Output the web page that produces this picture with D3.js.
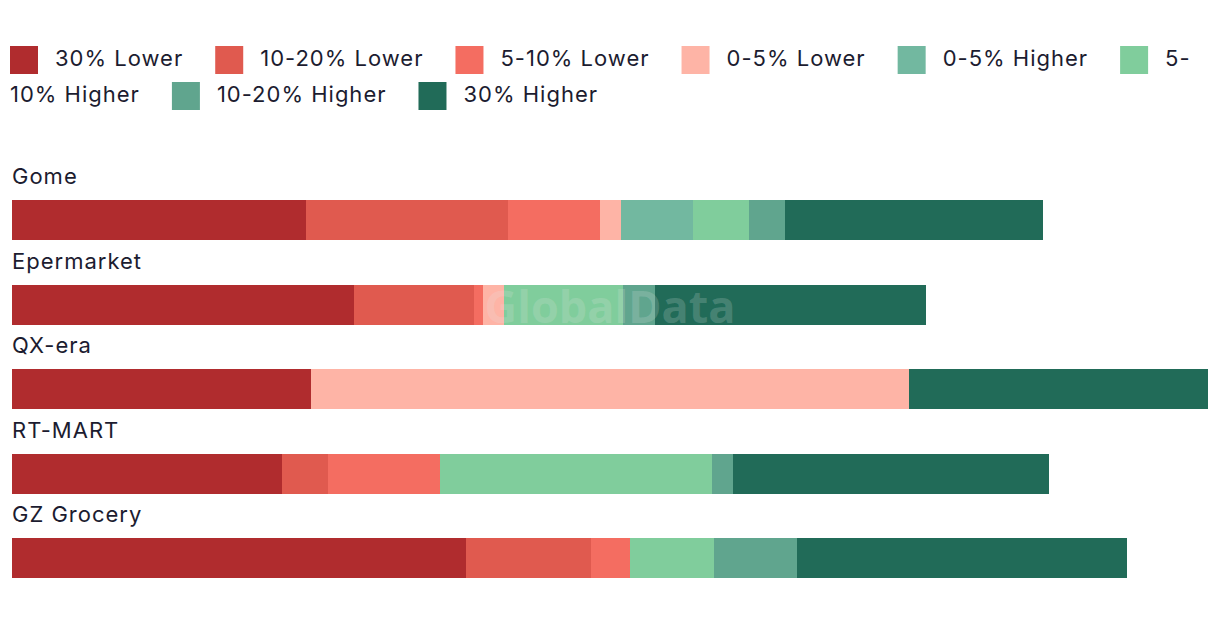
<!DOCTYPE html>
<html>
<head>
<meta charset="utf-8">
<script src="https://cdn.jsdelivr.net/npm/d3@7"></script>
<style>
  html, body { margin: 0; padding: 0; background: #ffffff; }
  svg { display: block; }
  text.t { font-family: Inter, "Noto Sans", sans-serif; letter-spacing: 1.0px; }
</style>
</head>
<body>
<svg id="chart" width="1220" height="622"></svg>
<script>
// ---- data ----
const categories = ["Gome", "Epermarket", "QX-era", "RT-MART", "GZ Grocery"];
const seriesNames = ["30% Lower", "10-20% Lower", "5-10% Lower", "0-5% Lower",
                     "0-5% Higher", "5-10% Higher", "10-20% Higher", "30% Higher"];
const lower30     = [24.6, 28.6, 25.0, 22.6, 38.0];
const lower10_20  = [16.9, 10.0, 0.0, 3.8, 10.4];
const lower5_10   = [7.7, 0.8, 0.0, 9.4, 3.3];
const lower0_5    = [1.7, 1.7, 50.0, 0.0, 0.0];
const higher0_5   = [6.0, 0.0, 0.0, 0.0, 0.0];
const higher5_10  = [4.7, 10.0, 0.0, 22.7, 7.0];
const higher10_20 = [3.0, 2.7, 0.0, 1.8, 6.9];
const higher30    = [21.6, 22.6, 25.0, 26.4, 27.6];
const seriesColors = ["#b02c2e", "#e05a4f", "#f46d61", "#feb4a6",
                      "#72b8a0", "#80cd9c", "#60a58e", "#216b58"];

const seriesValues = [lower30, lower10_20, lower5_10, lower0_5,
                      higher0_5, higher5_10, higher10_20, higher30];

// table for d3.stack
const table = categories.map((c, i) => {
  const row = { category: c };
  seriesNames.forEach((s, k) => { row[s] = seriesValues[k][i]; });
  return row;
});

const svg = d3.select("#chart");
const textColor = "#1c1c30";

// ---- legend (flow layout, wraps at hyphen like HTML text) ----
const legend = svg.append("g").attr("class", "legend");
const legLeft = 10, legRight = 1212, legRow0 = 66, legRowStep = 36;
const swatch = 28, swGap = 17, itemGap = 32, fontSize = 22;
const measure = svg.append("text").attr("class", "t").attr("font-size", fontSize).attr("visibility", "hidden");
function tw(s) { measure.text(s); return measure.node().getComputedTextLength(); }

function addText(g, xx, yy, s) {
  g.append("text").attr("class", "t").attr("x", xx).attr("y", yy)
    .attr("font-size", fontSize).attr("fill", textColor).text(s);
}

let cx = legLeft, row = 0;
seriesNames.forEach((name, k) => {
  if (cx + swatch > legRight) { cx = legLeft; row++; }
  const by = legRow0 + row * legRowStep;
  legend.append("rect")
    .attr("x", cx).attr("y", by - 20).attr("width", swatch).attr("height", swatch)
    .attr("fill", seriesColors[k]);
  cx += swatch + swGap;
  const w = tw(name);
  if (cx + w > legRight) {
    const idx = name.indexOf("-");
    const first = name.slice(0, idx + 1), rest = name.slice(idx + 1);
    if (idx >= 0 && cx + tw(first) <= legRight) {
      addText(legend, cx, by, first);
      row++; cx = legLeft;
      addText(legend, cx, legRow0 + row * legRowStep, rest);
      cx += tw(rest) + itemGap;
      return;
    }
  }
  addText(legend, cx, by, name);
  cx += w + itemGap;
});
measure.remove();

// ---- bars ----
const stacked = d3.stack().keys(seriesNames)(table);
const totals = table.map(r => d3.sum(seriesNames, s => r[s]));

const x = d3.scaleLinear().domain([0, d3.max(totals)]).range([12, 1208]);
const y = d3.scaleBand().domain(categories).range([158, 580.5]).paddingInner(0);
const barOffset = 42, barH = 40;

const layers = svg.append("g").attr("class", "bars")
  .selectAll("g").data(stacked).join("g")
  .attr("fill", (d, i) => seriesColors[i]);

layers.selectAll("rect")
  .data(d => d.filter(p => p[1] - p[0] > 0))
  .join("rect")
  .attr("x", p => x(p[0]))
  .attr("width", p => x(p[1]) - x(p[0]))
  .attr("y", p => y(p.data.category) + barOffset)
  .attr("height", barH)
  .attr("shape-rendering", "crispEdges");

// category labels
svg.append("g").attr("class", "labels")
  .selectAll("text").data(categories).join("text")
  .attr("class", "t")
  .attr("x", 12)
  .attr("y", c => y(c) + 26)
  .attr("font-size", fontSize)
  .attr("fill", textColor)
  .text(c => c);

// watermark
svg.append("text")
  .attr("x", 610).attr("y", 323)
  .attr("text-anchor", "middle")
  .attr("font-size", 45)
  .attr("font-weight", "bold")
  .attr("font-family", "'Open Sans', Roboto, sans-serif")
  .attr("fill", "#e6e6e6")
  .attr("fill-opacity", 0.2)
  .text("GlobalData");
</script>
</body>
</html>
